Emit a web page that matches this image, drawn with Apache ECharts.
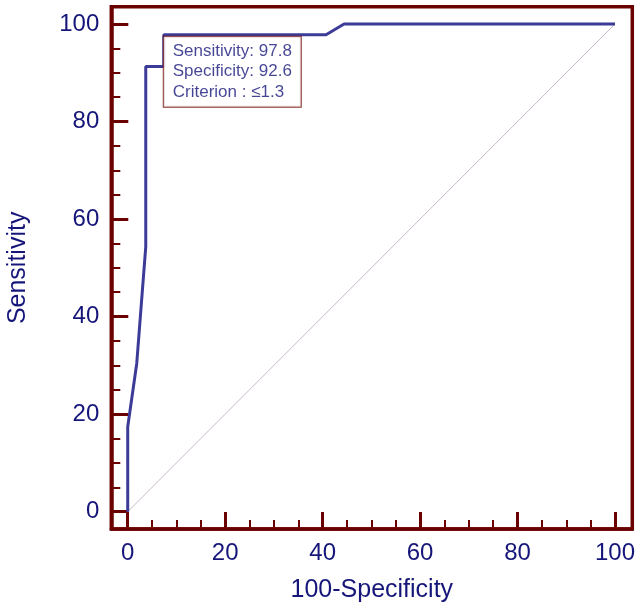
<!DOCTYPE html>
<html>
<head>
<meta charset="utf-8">
<script src="https://cdn.jsdelivr.net/npm/echarts@6/dist/echarts.min.js"></script>
<style>html,body{margin:0;padding:0;background:#fff}#c{width:642px;height:609px}</style>
</head>
<body>
<div id="c"></div>
<script>
// ROC curve data (100-Specificity, Sensitivity)
const rocX = [0, 0, 1.85, 3.7, 3.7, 7.4, 7.4, 40.7, 44.4, 100];
const rocY = [0, 17.4, 30.4, 54.3, 91.3, 91.3, 97.8, 97.8, 100, 100];
const diagX = [0, 100];
const diagY = [0, 100];
const majorTicks = [0, 20, 40, 60, 80, 100];
const minorTicks = [5, 10, 15, 25, 30, 35, 45, 50, 55, 65, 70, 75, 85, 90, 95];
const criterionPoint = [7.4, 97.8];
const criterionLines = ['Sensitivity: 97.8', 'Specificity: 92.6', 'Criterion : \u22641.3'];

const axisRed = '#6b0000';
const navy = '#16167a';
const font = '"Liberation Sans", Arial, sans-serif';
const xMin = -3.37, xMax = 103.55, yMin = -3.55, yMax = 103.55;

function majorAxis(dim) {
  const isX = dim === 'x';
  return {
    type: 'value',
    min: isX ? xMin : yMin,
    max: isX ? xMax : yMax,
    position: isX ? 'bottom' : 'left',
    name: isX ? '100-Specificity' : 'Sensitivity',
    nameLocation: 'middle',
    nameGap: isX ? 49 : 81,
    nameTextStyle: {color: navy, fontSize: 25, fontFamily: font},
    axisLine: {show: true, onZero: false, lineStyle: {color: axisRed, width: 3.5}},
    axisTick: {show: true, inside: true, length: 17, lineStyle: {color: axisRed, width: 3}, customValues: majorTicks},
    axisLabel: {show: true, color: navy, fontSize: 24, fontFamily: font, margin: isX ? 12 : 12, customValues: majorTicks},
    splitLine: {show: false},
    minorTick: {show: false}
  };
}
function minorAxis(dim) {
  const isX = dim === 'x';
  return {
    type: 'value',
    min: isX ? xMin : yMin,
    max: isX ? xMax : yMax,
    position: isX ? 'bottom' : 'left',
    axisLine: {show: false, onZero: false},
    axisTick: {show: true, inside: true, length: 9, lineStyle: {color: axisRed, width: 2}, customValues: minorTicks},
    axisLabel: {show: false},
    splitLine: {show: false}
  };
}

const chart = echarts.init(document.getElementById('c'), null, {renderer: 'canvas'});
chart.setOption({
  animation: false,
  backgroundColor: '#fff',
  grid: {left: 111.3, right: 9.7, top: 6.7, bottom: 80, containLabel: false, outerBoundsMode: 'none',
         show: true, borderColor: axisRed, borderWidth: 3.5, backgroundColor: 'transparent'},
  xAxis: [majorAxis('x'), minorAxis('x')],
  yAxis: [majorAxis('y'), minorAxis('y')],
  series: [
    {
      type: 'line', xAxisIndex: 0, yAxisIndex: 0,
      data: diagX.map((v, i) => [v, diagY[i]]),
      symbol: 'none',
      lineStyle: {color: '#b8a8b8', width: 0.8},
      z: 1
    },
    {
      type: 'line', xAxisIndex: 0, yAxisIndex: 0,
      data: rocX.map((v, i) => [v, rocY[i]]),
      symbol: 'none',
      lineStyle: {color: '#3c3c98', width: 3},
      z: 2
    },
    {
      type: 'scatter', xAxisIndex: 0, yAxisIndex: 0,
      data: [criterionPoint],
      symbolSize: 0,
      z: 5,
      label: {
        show: true,
        position: [0, 2],
        align: 'left',
        verticalAlign: 'top',
        formatter: criterionLines.join('\n'),
        color: navy,
        fontSize: 17,
        fontFamily: font,
        lineHeight: 20.5,
        backgroundColor: '#fff',
        borderColor: axisRed,
        borderWidth: 1,
        padding: [4, 7, 4, 9],
        width: 121,
        height: 62
      }
    }
  ]
});
</script>
</body>
</html>
